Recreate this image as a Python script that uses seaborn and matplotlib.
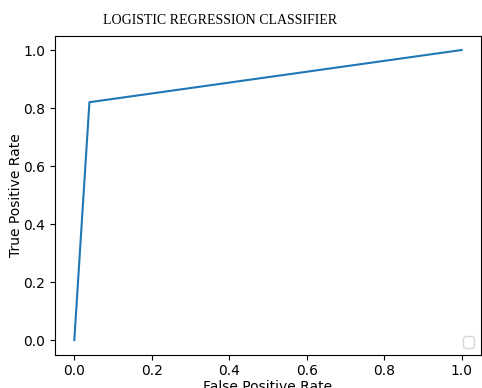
import matplotlib
matplotlib.use("Agg")
import matplotlib.pyplot as plt
import seaborn as sns

# ROC curve points
fpr = [0.0, 0.039, 1.0]
tpr = [0.0, 0.82, 1.0]

fig = plt.figure(figsize=(4.82, 3.88), dpi=100)
ax = fig.add_axes([0.114, 0.0863, 0.884, 0.8222])

sns.lineplot(x=fpr, y=tpr, ax=ax, color="#1f77b4", sort=False, estimator=None)

ax.set_xlabel("False Positive Rate", labelpad=1.5)
ax.set_ylabel("True Positive Rate", labelpad=0)
ax.set_title("LOGISTIC REGRESSION CLASSIFIER", fontfamily="Liberation Serif",
             fontsize=10, x=0.387, pad=8)
ax.legend(loc="lower right")

fig.savefig("out.png", dpi=100)
